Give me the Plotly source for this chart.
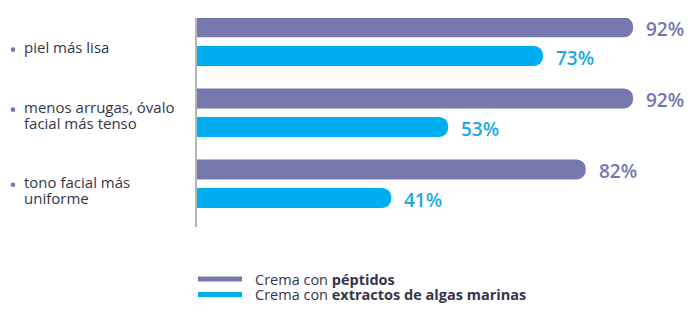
import plotly.graph_objects as go

# Data
categories = ["piel más lisa", "menos arrugas, óvalo<br>facial más tenso", "tono facial más<br>uniforme"]
peptidos = [92, 92, 82]
algas = [73, 53, 41]
series_names = ["Crema con <b>péptidos</b>", "Crema con <b>extractos de algas marinas</b>"]

PURPLE = "#7577AD"
CYAN = "#00AEEF"
TEXT = "#36364A"
FONT = "Open Sans"

W, H = 690, 327
ML, MR, MT, MB = 197, 19, 18, 100
plot_w = W - ML - MR
plot_h = H - MT - MB

fig = go.Figure()
for name, vals, col in [(series_names[0], peptidos, PURPLE), (series_names[1], algas, CYAN)]:
    fig.add_trace(go.Bar(
        y=list(range(len(categories))), x=vals, orientation="h",
        marker=dict(color=col, line=dict(width=0)),
        name=name, showlegend=False, hoverinfo="skip",
    ))

annotations = []
shapes = []

# value labels at the end of each bar
for idx, (vals, col) in enumerate([(peptidos, "#7476AC"), (algas, "#1AA9E8")]):
    for i, v in enumerate(vals):
        annotations.append(dict(
            x=v, y=i, xref="x", yref="y", text=f"{v}%", showarrow=False,
            xanchor="left", xshift=11, yshift=(12.5 if idx == 0 else -16),
            font=dict(family=FONT, size=19, color=col, weight=600),
        ))

# category labels with bullets, left aligned
label_x = (22 - ML) / plot_w
bullet_x = (13 - ML) / plot_w
line_h = 16
shifts = [-5, -2, -6]
for i, lab in enumerate(categories):
    lines = lab.split("<br>")
    n = len(lines)
    base = shifts[i]
    for k, ln in enumerate(lines):
        ys = base + ((n - 1) / 2 - k) * line_h
        annotations.append(dict(
            x=label_x, y=i, xref="paper", yref="y", text=ln, showarrow=False,
            xanchor="left", yanchor="middle", yshift=ys,
            font=dict(family=FONT, size=15, color=TEXT),
        ))
    # bullet dot beside the first line
    by = base + (n - 1) / 2 * line_h - 3
    shapes.append(dict(
        type="circle", xref="paper", yref="y",
        xsizemode="pixel", ysizemode="pixel",
        xanchor=bullet_x, yanchor=i,
        x0=-2.3, x1=2.3, y0=by - 2.3, y1=by + 2.3,
        fillcolor=PURPLE, line=dict(width=0),
    ))

# legend drawn as short bars with labels
leg_rows = [279, 294.5]
for name, col, py in zip(series_names, [PURPLE, CYAN], leg_rows):
    yp = (MT + plot_h - py) / plot_h
    shapes.append(dict(
        type="line", xref="paper", yref="paper",
        x0=(198 - ML) / plot_w, x1=(242 - ML) / plot_w, y0=yp, y1=yp,
        line=dict(color=col, width=5),
    ))
    annotations.append(dict(
        x=(253 - ML) / plot_w, y=yp, xref="paper", yref="paper", text=name,
        showarrow=False, xanchor="left", yanchor="middle",
        font=dict(family=FONT, size=14.5, color=TEXT),
    ))

fig.update_layout(
    width=W, height=H,
    margin=dict(l=ML, r=MR, t=MT, b=MB),
    paper_bgcolor="white", plot_bgcolor="white",
    barmode="group", bargap=0.197, bargroupgap=0.3,
    barcornerradius="50%",
    xaxis=dict(range=[0, 100], visible=False, fixedrange=True),
    yaxis=dict(range=[2.61, -0.333], showticklabels=False, showgrid=False,
               zeroline=False, showline=True, linecolor="#B5B5B5", linewidth=1.5,
               ticks="", fixedrange=True),
    annotations=annotations, shapes=shapes,
    showlegend=False,
)

fig.write_html("out.html", config={"displayModeBar": False})
